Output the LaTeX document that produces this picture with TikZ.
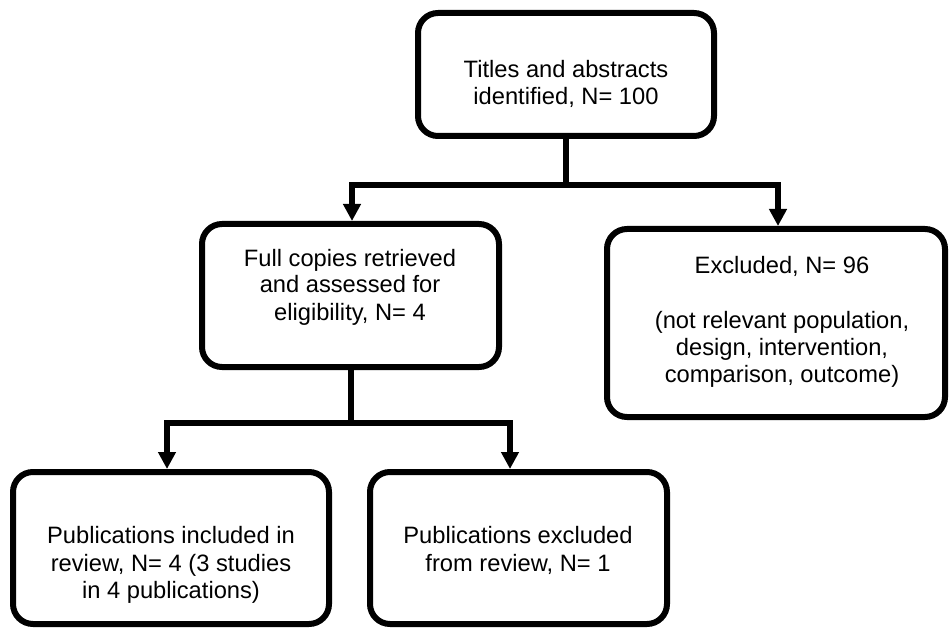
\documentclass[tikz,border=0pt]{standalone}
\usepackage{fontspec}
\setmainfont{Liberation Sans}
\usetikzlibrary{arrows.meta}
\begin{document}
\begin{tikzpicture}[x=1pt,y=-1pt,
  box/.style={draw=black, line width=6pt, rounded corners=20pt, inner sep=0pt, fill=white},
  txt/.style={anchor=base, inner sep=0pt, font=\fontsize{23.7}{27}\selectfont},
  conn/.style={draw=black, line width=6pt},
  arr/.style={conn, -{Triangle[width=17pt,length=17pt]}}]
\useasboundingbox (0,0) rectangle (950,628);
% boxes
\node[box, minimum width=296pt, minimum height=123pt] (top) at (566,74.5) {};
\node[box, minimum width=297pt, minimum height=143pt] (mid) at (350.5,295.5) {};
\node[box, minimum width=338pt, minimum height=188pt] (excl) at (776,323) {};
\node[box, minimum width=316pt, minimum height=152pt] (incl) at (171,548) {};
\node[box, minimum width=297pt, minimum height=152pt] (exc2) at (518.5,548) {};
% texts
\node[txt] (t1) at (566,78) {Titles and abstracts};
\node[txt] (t2) at (566,105) {identified, N= 100};
\node[txt] (m1) at (350,266) {Full copies retrieved};
\node[txt] (m2) at (350,293) {and assessed for};
\node[txt] (m3) at (350,320) {eligibility, N= 4};
\node[txt] (e1) at (782,274) {Excluded, N= 96};
\node[txt] (e2) at (782,328) {(not relevant population,};
\node[txt] (e3) at (782,355) {design, intervention,};
\node[txt] (e4) at (782,382) {comparison, outcome)};
\node[txt] (i1) at (171,543) {Publications included in};
\node[txt] (i2) at (171,571) {review, N= 4 (3 studies};
\node[txt] (i3) at (171,598) {in 4 publications)};
\node[txt] (x1) at (518,543) {Publications excluded};
\node[txt] (x2) at (518,571) {from review, N= 1};
% connectors
\coordinate (j1) at ([yshift=-46pt]top.south);
\draw[conn] (top.south) -- (j1);
\draw[arr] (j1) -| ([xshift=1.5pt]mid.north);
\draw[arr] (j1) -| ([xshift=2pt]excl.north);
\coordinate (j2) at ([yshift=-53pt]mid.south);
\draw[conn] (mid.south) -- (j2);
\draw[arr] (j2) -| ([xshift=-4pt]incl.north);
\draw[arr] (j2) -| ([xshift=-8.5pt]exc2.north);
\end{tikzpicture}
\end{document}
